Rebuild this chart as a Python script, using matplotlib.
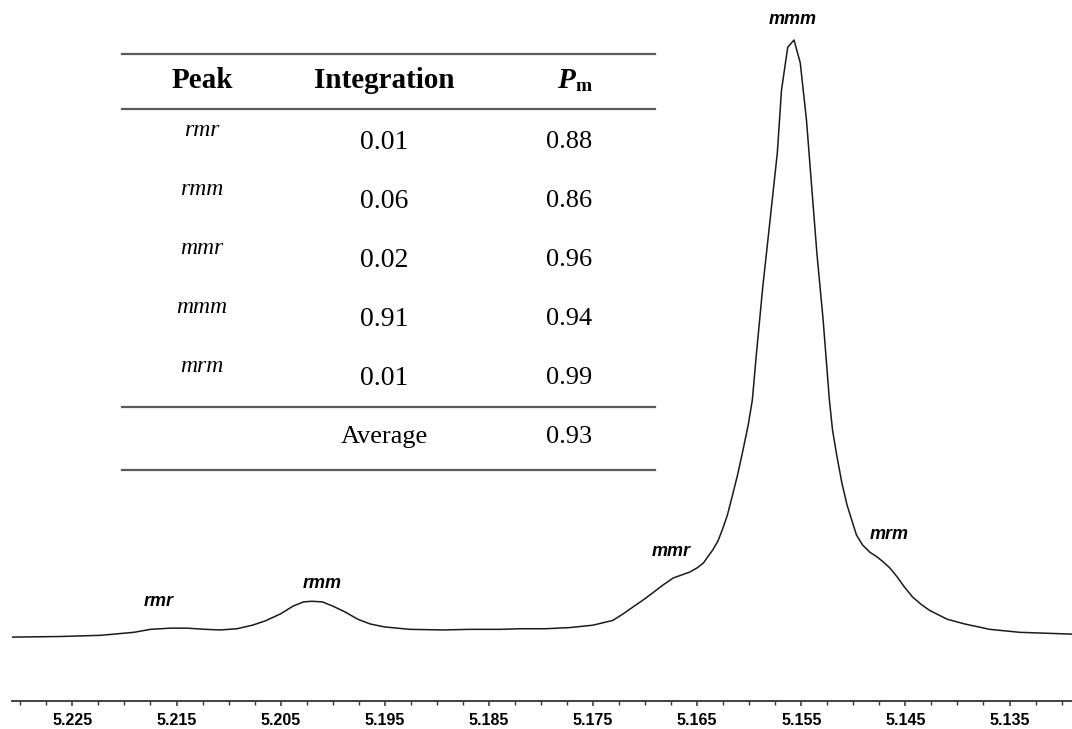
import matplotlib
matplotlib.use("Agg")
import matplotlib.pyplot as plt
from matplotlib.ticker import FixedLocator, MultipleLocator

# --- spectrum (ppm, normalised intensity) ---
ppm = [5.2308, 5.2262, 5.2223, 5.2191, 5.2175, 5.2156, 5.2140, 5.2122, 5.2108,
       5.2092, 5.2077, 5.2065, 5.2050, 5.2038, 5.2028, 5.2020, 5.2010, 5.2000,
       5.1988, 5.1976, 5.1964, 5.1950, 5.1926, 5.1894, 5.1868, 5.1839, 5.1820,
       5.1796, 5.1772, 5.1750, 5.1731, 5.1721, 5.1712, 5.1702, 5.1692, 5.1683,
       5.1673, 5.1665, 5.1657, 5.1650, 5.1644, 5.1640, 5.1635, 5.1630, 5.1626,
       5.1621, 5.1616, 5.1611, 5.1606, 5.1601, 5.1597, 5.1593, 5.1587, 5.1580,
       5.1573, 5.1569, 5.1563, 5.1557, 5.1551, 5.1545, 5.1540, 5.1535, 5.1529,
       5.1523, 5.1520, 5.1516, 5.1511, 5.1506, 5.1501, 5.1497, 5.1491, 5.1484,
       5.1477, 5.1472, 5.1465, 5.1458, 5.1451, 5.1443, 5.1435, 5.1427, 5.1410,
       5.1393, 5.1369, 5.1340, 5.1290]
inten = [0.000, 0.001, 0.003, 0.008, 0.013, 0.015, 0.015, 0.013, 0.012,
         0.014, 0.020, 0.027, 0.039, 0.052, 0.059, 0.060, 0.059, 0.052,
         0.042, 0.030, 0.022, 0.017, 0.013, 0.012, 0.013, 0.013, 0.014,
         0.014, 0.016, 0.020, 0.028, 0.039, 0.050, 0.062, 0.075, 0.087,
         0.099, 0.104, 0.109, 0.116, 0.124, 0.134, 0.146, 0.161, 0.179,
         0.204, 0.238, 0.273, 0.313, 0.355, 0.397, 0.476, 0.586, 0.698,
         0.811, 0.916, 0.988, 1.000, 0.962, 0.866, 0.754, 0.643, 0.531,
         0.397, 0.347, 0.305, 0.258, 0.221, 0.193, 0.171, 0.154, 0.142,
         0.134, 0.127, 0.116, 0.101, 0.084, 0.067, 0.055, 0.045, 0.030,
         0.022, 0.013, 0.008, 0.005]

# peak labels on the curve
peak_names = ["rmr", "rmm", "mmr", "mmm", "mrm"]
peak_ppm = [5.2167, 5.2010, 5.1675, 5.1558, 5.1466]
peak_h = [0.060, 0.090, 0.143, 1.034, 0.172]

# table
tab_peaks = ["rmr", "rmm", "mmr", "mmm", "mrm"]
tab_integ = ["0.01", "0.06", "0.02", "0.91", "0.01"]
tab_pm = ["0.88", "0.86", "0.96", "0.94", "0.99"]
tab_avg = "0.93"

major_ticks = [5.225, 5.215, 5.205, 5.195, 5.185, 5.175, 5.165, 5.155, 5.145, 5.135]

fig = plt.figure(figsize=(10.72, 7.29), dpi=100)
ax = fig.add_axes([12 / 1072, 28 / 729, 1 - 12 / 1072, 701 / 729])
ax.plot(ppm, inten, color="#1a1a1a", lw=1.1)
ax.set_xlim(5.2308, 5.1290)
ax.set_ylim(-0.107, 1.067)

for s in ["top", "left", "right"]:
    ax.spines[s].set_visible(False)
ax.spines["bottom"].set_color("#333333")
ax.spines["bottom"].set_linewidth(1.3)
ax.set_yticks([])
ax.xaxis.set_major_locator(FixedLocator(major_ticks))
ax.xaxis.set_minor_locator(MultipleLocator(0.0025))
ax.set_xticklabels([f"{t:.3f}" for t in major_ticks],
                   fontfamily="Liberation Sans", fontweight="bold", fontsize=11.5)
ax.tick_params(axis="x", which="major", direction="out", length=3.5, width=1.1,
               color="#333333", pad=5)
ax.tick_params(axis="x", which="minor", direction="out", length=3, width=1.0,
               color="#333333")

for name, x, h in zip(peak_names, peak_ppm, peak_h):
    ax.text(x, h, name, ha="center", va="center", fontfamily="Liberation Sans",
            fontweight="bold", fontstyle="italic", fontsize=13)

# --- inset table (pixel coordinates) ---
tb = fig.add_axes([0, 0, 1, 1])
tb.set_xlim(0, 1072)
tb.set_ylim(729, 0)
tb.axis("off")
tb.patch.set_alpha(0)

for y in [54, 109, 407, 470]:
    tb.plot([122, 655], [y, y], color="#5a5a5a", lw=1.6)

serif = "Liberation Serif"
col_peak, col_int, col_pm = 202, 384, 569
tb.text(col_peak, 80, "Peak", ha="center", va="center", fontfamily=serif,
        fontweight="bold", fontsize=21)
tb.text(col_int, 80, "Integration", ha="center", va="center", fontfamily=serif,
        fontweight="bold", fontsize=21)
tb.text(col_pm + 6, 80, "P", ha="right", va="center", fontfamily=serif,
        fontweight="bold", fontstyle="italic", fontsize=21)
tb.text(col_pm + 6, 86, "m", ha="left", va="center", fontfamily=serif,
        fontweight="bold", fontsize=14)

for i in range(len(tab_peaks)):
    yv = 142 + 59 * i
    tb.text(col_peak, yv - 12, tab_peaks[i], ha="center", va="center",
            fontfamily=serif, fontstyle="italic", fontsize=17)
    tb.text(col_int, yv, tab_integ[i], ha="center", va="center",
            fontfamily=serif, fontsize=20)
    tb.text(col_pm, yv, tab_pm[i], ha="center", va="center",
            fontfamily=serif, fontsize=19)

tb.text(col_int, 437, "Average", ha="center", va="center", fontfamily=serif,
        fontsize=19)
tb.text(col_pm, 437, tab_avg, ha="center", va="center", fontfamily=serif,
        fontsize=19)

fig.savefig("out.png", dpi=100)
